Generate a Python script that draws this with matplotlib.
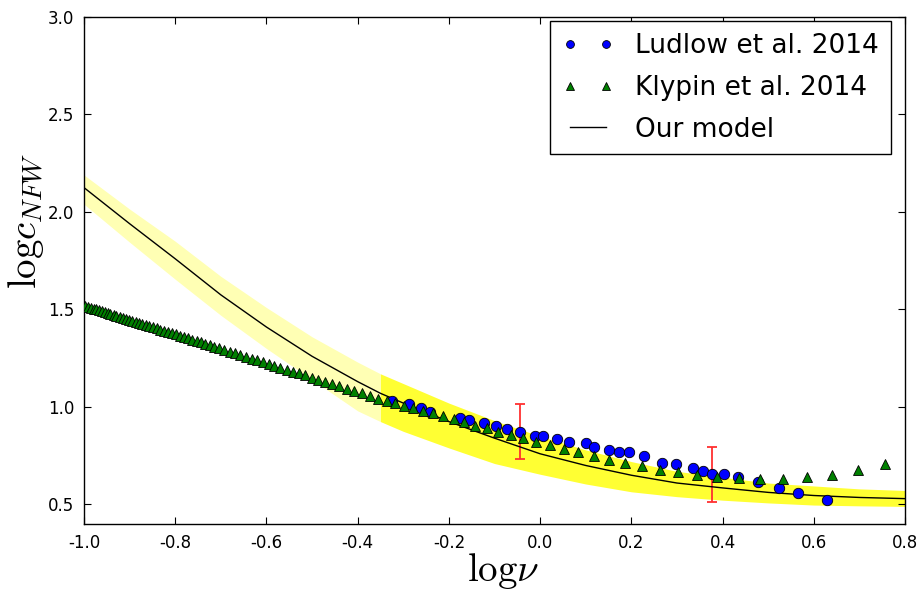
import numpy as np
import matplotlib
matplotlib.use("Agg")
import matplotlib.pyplot as plt
from matplotlib.ticker import FormatStrFormatter

# Ludlow et al. 2014 (blue circles)
ludlow_x = [-0.325, -0.287, -0.262, -0.241, -0.176, -0.157, -0.123, -0.097, -0.073, -0.044,
            -0.011, 0.006, 0.036, 0.063, 0.100, 0.119, 0.150, 0.173, 0.195, 0.228,
            0.267, 0.298, 0.335, 0.358, 0.376, 0.403, 0.434, 0.478, 0.524, 0.566, 0.630]
ludlow_y = [1.033, 1.016, 0.993, 0.976, 0.942, 0.935, 0.918, 0.901, 0.888, 0.874,
            0.850, 0.853, 0.838, 0.819, 0.814, 0.793, 0.780, 0.769, 0.768, 0.751,
            0.712, 0.708, 0.685, 0.674, 0.656, 0.654, 0.640, 0.614, 0.587, 0.561, 0.525]

# Klypin et al. 2014 (green triangles)
klypin_x = [-0.997, -0.991, -0.985, -0.979, -0.973, -0.967, -0.961, -0.955, -0.948, -0.942,
            -0.935, -0.929, -0.922, -0.915, -0.908, -0.901, -0.894, -0.887, -0.879, -0.872,
            -0.864, -0.857, -0.849, -0.841, -0.833, -0.825, -0.816, -0.808, -0.799, -0.790,
            -0.781, -0.772, -0.763, -0.753, -0.744, -0.734, -0.724, -0.714, -0.703, -0.692,
            -0.681, -0.670, -0.658, -0.645, -0.632, -0.620, -0.608, -0.595, -0.583, -0.570,
            -0.556, -0.542, -0.529, -0.515, -0.501, -0.486, -0.472, -0.457, -0.441, -0.424,
            -0.408, -0.391, -0.373, -0.355, -0.336, -0.318, -0.298, -0.278, -0.257, -0.235,
            -0.214, -0.189, -0.166, -0.143, -0.117, -0.092, -0.064, -0.037, -0.008, 0.022,
            0.052, 0.084, 0.118, 0.152, 0.187, 0.224, 0.263, 0.303, 0.345, 0.388,
            0.435, 0.482, 0.532, 0.584, 0.639, 0.696, 0.756]
klypin_y = [1.518, 1.514, 1.509, 1.505, 1.500, 1.496, 1.492, 1.487, 1.482, 1.478,
            1.472, 1.468, 1.463, 1.458, 1.452, 1.447, 1.442, 1.437, 1.431, 1.426,
            1.420, 1.415, 1.409, 1.403, 1.397, 1.391, 1.384, 1.378, 1.372, 1.365,
            1.358, 1.352, 1.345, 1.338, 1.331, 1.324, 1.316, 1.309, 1.301, 1.293,
            1.284, 1.276, 1.267, 1.258, 1.248, 1.239, 1.230, 1.221, 1.212, 1.202,
            1.192, 1.181, 1.172, 1.162, 1.151, 1.140, 1.130, 1.119, 1.107, 1.094,
            1.082, 1.070, 1.056, 1.043, 1.030, 1.020, 1.007, 0.996, 0.981, 0.970,
            0.953, 0.939, 0.925, 0.905, 0.890, 0.873, 0.857, 0.839, 0.819, 0.805,
            0.785, 0.768, 0.748, 0.730, 0.714, 0.696, 0.679, 0.665, 0.650, 0.640,
            0.635, 0.630, 0.633, 0.641, 0.653, 0.678, 0.708]

# our model curve and its uncertainty band
model_x = [-1.0, -0.9, -0.8, -0.7, -0.6, -0.5, -0.4, -0.35, -0.3, -0.2, -0.1,
           0.0, 0.1, 0.2, 0.3, 0.4, 0.5, 0.6, 0.7, 0.8]
model_y = [2.125, 1.94, 1.76, 1.575, 1.41, 1.26, 1.13, 1.07, 1.02, 0.925, 0.84,
           0.76, 0.70, 0.65, 0.61, 0.585, 0.562, 0.546, 0.536, 0.53]
band_hi = [2.19, 2.015, 1.85, 1.67, 1.51, 1.36, 1.23, 1.17, 1.12, 1.02, 0.93,
           0.85, 0.78, 0.72, 0.67, 0.64, 0.61, 0.595, 0.58, 0.572]
band_lo = [2.04, 1.845, 1.655, 1.47, 1.30, 1.14, 0.98, 0.925, 0.875, 0.79, 0.71,
           0.655, 0.605, 0.565, 0.54, 0.522, 0.508, 0.497, 0.493, 0.49]
band_split = -0.35

# error bars on two Ludlow points
err_x = [-0.044, 0.376]
err_y = [0.874, 0.655]
err_size = [0.14, 0.14]

xticks = [-1.0, -0.8, -0.6, -0.4, -0.2, 0.0, 0.2, 0.4, 0.6, 0.8]
yticks = [0.5, 1.0, 1.5, 2.0, 2.5, 3.0]

plt.rcParams["mathtext.fontset"] = "cm"

fig = plt.figure(figsize=(9.22, 5.90), dpi=100)
ax = fig.add_axes([0.0911, 0.1119, 0.8905, 0.8593])

mx = np.array(model_x)
lo = np.array(band_lo)
hi = np.array(band_hi)
left = mx <= band_split
right = mx >= band_split
ax.fill_between(mx[left], lo[left], hi[left], color="#ffffb4", lw=0, zorder=1)
ax.fill_between(mx[right], lo[right], hi[right], color="#ffff33", lw=0, zorder=1)

ax.errorbar(err_x, err_y, yerr=err_size, fmt="none", ecolor="#ff3030",
            elinewidth=1.3, capsize=3.5, capthick=1.3, zorder=2)

ax.plot(ludlow_x, ludlow_y, "o", color="blue", mec="black", mew=0.6, ms=7.5,
        label="Ludlow et al. 2014", zorder=3)
ax.plot(klypin_x, klypin_y, "^", color="green", mec="black", mew=0.6, ms=7.5,
        label="Klypin et al. 2014", zorder=4)
ax.plot(model_x, model_y, "-", color="black", lw=1.0, label="Our model", zorder=2.5)

ax.set_xlim(-1.0, 0.8)
ax.set_ylim(0.4, 3.0)
ax.set_xticks(xticks)
ax.set_yticks(yticks)
ax.tick_params(direction="in", top=True, right=True, labelsize=12, length=5, pad=7)
ax.xaxis.set_major_formatter(FormatStrFormatter("%.1f"))
ax.yaxis.set_major_formatter(FormatStrFormatter("%.1f"))
for s in ax.spines.values():
    s.set_linewidth(1.0)

ax.set_xlabel(r"$\mathrm{log}\nu$", fontsize=28)
ax.set_ylabel(r"$\mathrm{log}c_{NFW}$", fontsize=28)
ax.xaxis.set_label_coords(0.51, -0.054)
ax.yaxis.set_label_coords(-0.046, 0.598)

leg = ax.legend(loc="upper right", bbox_to_anchor=(0.983, 0.992), borderaxespad=0,
                numpoints=2, fontsize=19, fancybox=False, framealpha=1,
                edgecolor="black", handlelength=1.97, handletextpad=0.8,
                borderpad=0.45, labelspacing=0.6, markerscale=0.75)
leg.get_frame().set_linewidth(1.0)

fig.savefig("out.png", dpi=100, facecolor="white")
